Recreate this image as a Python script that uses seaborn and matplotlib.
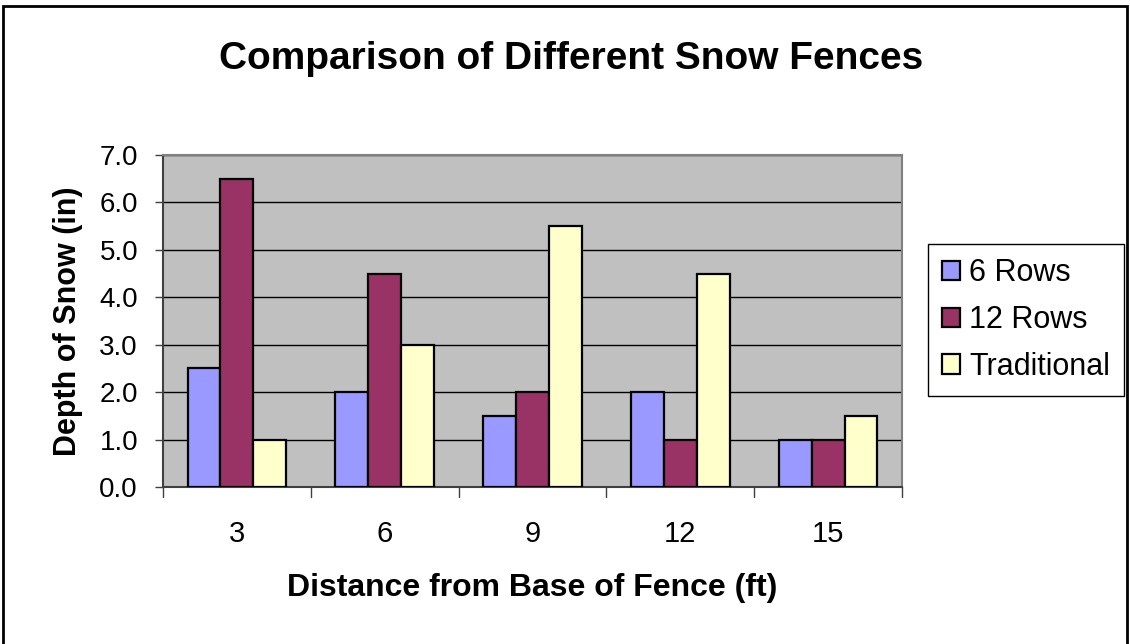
import numpy as np
import pandas as pd
import matplotlib
matplotlib.use("Agg")
import matplotlib.pyplot as plt
from matplotlib.patches import Rectangle
import seaborn as sns

# data
distances = ["3", "6", "9", "12", "15"]
rows6 = [2.5, 2.0, 1.5, 2.0, 1.0]
rows12 = [6.5, 4.5, 2.0, 1.0, 1.0]
traditional = [1.0, 3.0, 5.5, 4.5, 1.5]
series_names = ["6 Rows", "12 Rows", "Traditional"]
colors = ["#9999FF", "#993366", "#FFFFCC"]

df = pd.DataFrame({
    "Distance": distances * 3,
    "Depth": rows6 + rows12 + traditional,
    "Fence": np.repeat(series_names, len(distances)),
})

sns.set_style("white")
plt.rcParams["font.family"] = ["Liberation Sans", "DejaVu Sans"]
plt.rcParams["text.color"] = "black"
plt.rcParams["axes.labelcolor"] = "black"
plt.rcParams["xtick.color"] = "black"
plt.rcParams["ytick.color"] = "black"

fig = plt.figure(figsize=(11.3, 6.44), dpi=100)
ax = fig.add_axes([163 / 1130, 1 - 487 / 644, (902 - 163) / 1130, (487 - 155) / 644])
ax.set_facecolor("#C0C0C0")

sns.barplot(data=df, x="Distance", y="Depth", hue="Fence", order=distances,
            hue_order=series_names, palette=colors, width=3 / 4.5, gap=0,
            edgecolor="black", linewidth=1.6, saturation=1, ax=ax, zorder=3)

ax.set_ylim(0, 7)
ax.set_xlim(-0.5, len(distances) - 0.5)
ax.set_yticks(np.arange(0, 8, 1))
ax.set_yticklabels([f"{v:.1f}" for v in np.arange(0, 8, 1)], fontsize=20)
ax.tick_params(axis="x", labelsize=21, length=0, pad=24)
ax.tick_params(axis="y", length=6, width=1, color="#404040", direction="out", left=True, pad=12)
# category boundary ticks like the original
for b in np.arange(-0.5, len(distances), 1):
    ax.plot([b, b], [0, -0.22], color="#404040", lw=1, clip_on=False)
ax.set_ylim(0, 7)
ax.yaxis.grid(True, color="black", lw=1, zorder=1)
ax.set_axisbelow(True)
for s in ax.spines.values():
    s.set_color("#808080")
    s.set_linewidth(1.5)
ax.spines["left"].set_color("#404040")
ax.spines["bottom"].set_color("#404040")

ax.set_xlabel("Distance from Base of Fence (ft)", fontsize=23, fontweight="bold", labelpad=18)
ax.set_ylabel("Depth of Snow (in)", fontsize=22, fontweight="bold", labelpad=12)
fig.text(0.505, 0.908, "Comparison of Different Snow Fences", ha="center", va="center",
         fontsize=28, fontweight="bold")

ax.legend(loc="center left", bbox_to_anchor=(928 / 1130, 1 - 320 / 644),
          bbox_transform=fig.transFigure, fontsize=22, frameon=True, fancybox=False,
          edgecolor="black", framealpha=1, handlelength=0.6, handleheight=0.6,
          handletextpad=0.3, labelspacing=0.55, borderpad=0.45, borderaxespad=0, title=None)
ax.get_legend().get_frame().set_linewidth(1)

fig.patches.append(Rectangle((3 / 1130, -0.01), 1 - 6 / 1130, 1 - 6 / 644 + 0.01,
                             transform=fig.transFigure, fill=False, edgecolor="black", lw=2))

fig.savefig("out.png", dpi=100)
